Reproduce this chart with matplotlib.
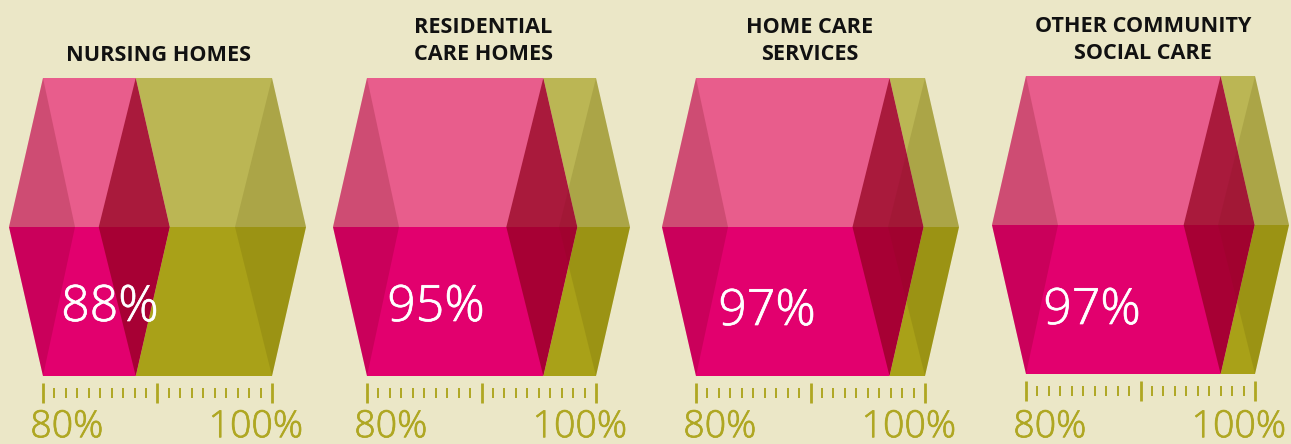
#!/usr/bin/env python3
import matplotlib
matplotlib.use('Agg')
import matplotlib.pyplot as plt
import matplotlib.patheffects as pe
from matplotlib.patches import Polygon

W, H = 1291, 444
BG = '#EBE7C7'

titles = ['NURSING HOMES', 'RESIDENTIAL\nCARE HOMES', 'HOME CARE\nSERVICES', 'OTHER COMMUNITY\nSOCIAL CARE']
values = [88.1, 95.4, 96.9, 97.0]
value_labels = ['88%', '95%', '97%', '97%']
scale_min = 80
scale_max = 100
scale_labels = ['80%', '100%']

# pixel layout of each panel: left edge of scale, top and bottom of the shape
panel_x = [43, 367, 696, 1026]
panel_top = [78, 78, 78, 76]
panel_w = 229
panel_h = 298
value_pos = [(110, 308), (436, 308), (767, 312), (1092, 311)]
title_x = [158, 483, 810, 1143]
title_y = [55.5, 41, 41, 40]
scale_label_off = [24, -16]

PINK = {1: '#E85D8C', -1: '#E2006E'}
OLIVE = {1: '#BBB654', -1: '#A9A118'}
LEFT_SHADE = (93 / 255, 0, 5 / 255)
FOLD_SHADE = (145 / 255, 0, 30 / 255)
RIGHT_SHADE = (80 / 255, 70 / 255, 0)
SCALE_COLOR = '#AFA722'

plt.rcParams['font.family'] = ['Open Sans', 'DejaVu Sans']

fig = plt.figure(figsize=(W / 100, H / 100), dpi=100, facecolor=BG)


def facet(ax, x, sign, left, right, **kw):
    # one half of a kite shaped side face, y=sign is the outer edge, y=0 the fold
    ax.add_patch(Polygon([(x, sign), (x + right, 0), (x + left, 0)], closed=True, lw=0, **kw))


def band(ax, a, b, sign, a_off, b_off, color):
    pts = [(a, sign), (b, sign), (b + b_off, 0), (a + a_off, 0)]
    ax.add_patch(Polygon(pts, closed=True, lw=0, facecolor=color))


def light_text(x, y, s, size, color):
    # light weight alone comes out a bit too thin, so thicken it slightly
    t = fig.text(x / W, 1 - y / H, s, ha='center', va='center', fontsize=size, fontweight='light', color=color)
    t.set_path_effects([pe.withStroke(linewidth=0.5, foreground=color)])


for i in range(4):
    x0 = panel_x[i]
    top = panel_top[i]
    px_per_pct = panel_w / (scale_max - scale_min)
    pad = 42
    out = 34 / px_per_pct
    inn = 37 / px_per_pct

    ax_top = top - 8
    ax_bot = top + panel_h + 17
    ax = fig.add_axes([(x0 - pad) / W, 1 - ax_bot / H, (panel_w + 2 * pad) / W, (ax_bot - ax_top) / H])
    ax.patch.set_alpha(0)
    ax.set_xlim(scale_min - pad / px_per_pct, scale_max + pad / px_per_pct)
    ax.set_ylim(-1 - 17 / (panel_h / 2), 1 + 8 / (panel_h / 2))

    v = values[i]
    for s in (1, -1):
        band(ax, scale_min, v, s, -out, out, PINK[s])
        band(ax, v, scale_max, s, out, out, OLIVE[s])
        # left side of the pink part
        facet(ax, scale_min, s, -out, 32 / px_per_pct, facecolor=LEFT_SHADE, alpha=0.18)
        # right side of the scale, under the fold so the overlap stays red
        facet(ax, scale_max, s, -inn, out, facecolor=RIGHT_SHADE, alpha=0.15)
        # dark fold at the value
        facet(ax, v, s, -inn, out, facecolor=FOLD_SHADE, alpha=0.72)

    for sp in ax.spines.values():
        sp.set_visible(False)
    ax.set_yticks([])
    ax.set_xticks([80, 90, 100])
    ax.set_xticks([t for t in range(80, 101) if t % 10], minor=True)
    ax.set_xticklabels([])
    ax.tick_params(axis='x', which='major', direction='inout', length=14.4, width=2.0, color=SCALE_COLOR)
    ax.tick_params(axis='x', which='minor', direction='inout', length=7.2, width=1.4, color=SCALE_COLOR)

    fig.text(title_x[i] / W, 1 - title_y[i] / H, titles[i], ha='center', va='center',
             fontsize=15.6, fontweight='bold', color='#111111', linespacing=1.42)
    light_text(value_pos[i][0], value_pos[i][1], value_labels[i], 36, 'white')
    light_text(x0 + scale_label_off[0], 427, scale_labels[0], 27, SCALE_COLOR)
    light_text(x0 + panel_w + scale_label_off[1], 427, scale_labels[1], 27, SCALE_COLOR)

fig.savefig('out.png', dpi=100, facecolor=BG)
